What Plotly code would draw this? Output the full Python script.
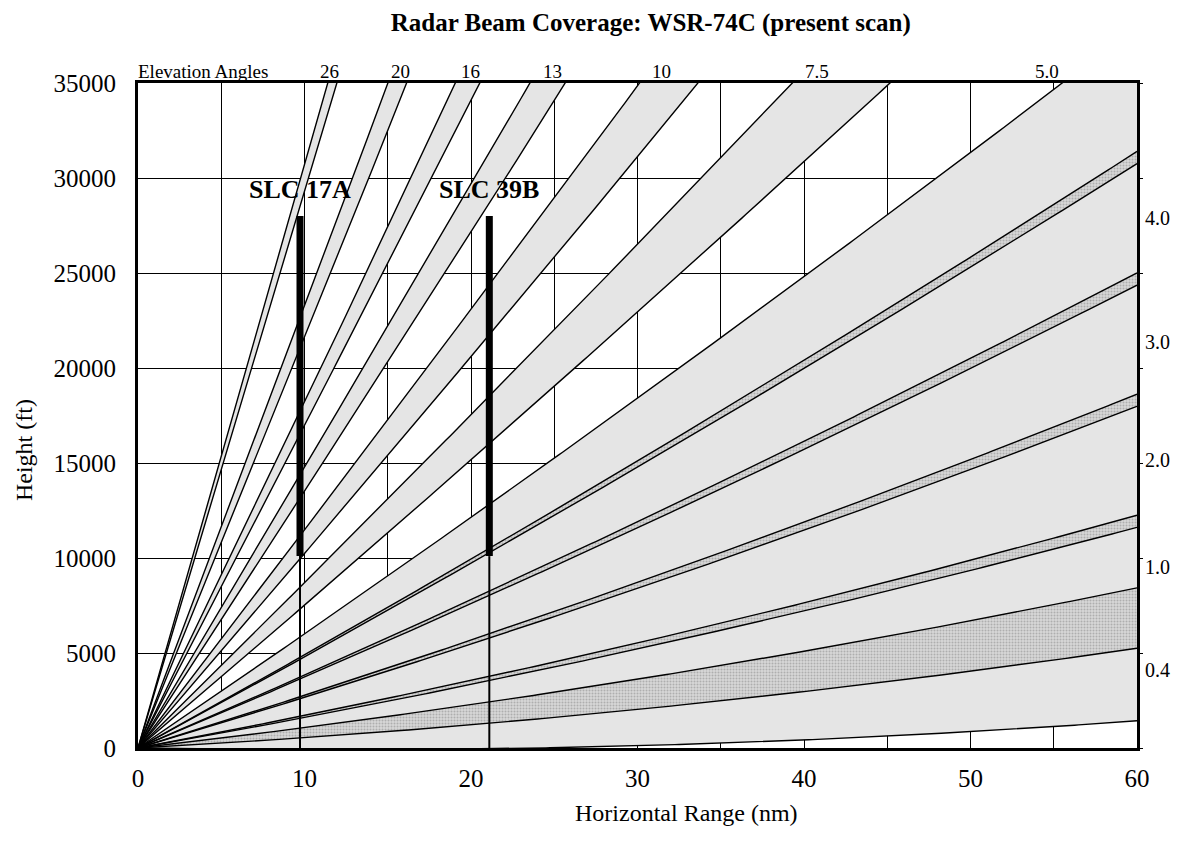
import numpy as np
import plotly.graph_objects as go

# ---- data ----
beam_labels = ["0.4", "1.0", "2.0", "3.0", "4.0", "5.0", "7.5", "10", "13", "16", "20", "26"]
lower_edge_deg = [-0.15, 0.45, 1.45, 2.45, 3.45, 4.45, 6.99, 9.50, 12.48, 15.55, 19.53, 25.67]
upper_edge_deg = [0.95, 1.55, 2.55, 3.55, 4.55, 5.58, 8.09, 10.64, 13.61, 16.63, 20.90, 26.73]

top_labels = ["26", "20", "16", "13", "10", "7.5", "5.0"]
top_label_x = [11.53, 15.74, 19.94, 24.92, 31.47, 40.78, 54.6]
right_labels = ["4.0", "3.0", "2.0", "1.0", "0.4"]
right_label_y = [27890, 21370, 15160, 9530, 4100]

sites = ["SLC 17A", "SLC 39B"]
site_x = [9.73, 21.1]
site_bar_bottom = [10100, 10100]
site_bar_top = [28000, 28000]
site_label_y = [29400, 29400]

x_ticks = [0, 10, 20, 30, 40, 50, 60]
y_ticks = [0, 5000, 10000, 15000, 20000, 25000, 30000, 35000]
y_tick_text = [str(v) for v in y_ticks]

# ---- beam geometry (4/3 earth radius model) ----
FT_PER_NM = 6076.1
RE_FT = 20.9e6
K = 4.0 / 3.0
r_nm = np.linspace(0, 60, 241)


def beam_height(angle_deg):
    r_ft = r_nm * FT_PER_NM
    return r_ft * np.tan(np.radians(angle_deg)) + r_ft ** 2 / (2 * K * RE_FT)


FONT = "Liberation Serif, Times New Roman, serif"
GRAY = "#e5e5e5"

fig = go.Figure()

# beam fills
for lo, hi in zip(lower_edge_deg, upper_edge_deg):
    fig.add_trace(go.Scatter(x=r_nm, y=beam_height(lo), mode="lines",
                             line=dict(width=0), hoverinfo="skip", showlegend=False))
    fig.add_trace(go.Scatter(x=r_nm, y=beam_height(hi), mode="lines",
                             line=dict(width=0), fill="tonexty", fillcolor=GRAY,
                             hoverinfo="skip", showlegend=False))

# overlapping parts of adjacent beams (stippled)
for i in range(len(beam_labels) - 1):
    lo_next = lower_edge_deg[i + 1]
    hi_cur = upper_edge_deg[i]
    if lo_next < hi_cur:
        fig.add_trace(go.Scatter(x=r_nm, y=beam_height(lo_next), mode="lines",
                                 line=dict(width=0), hoverinfo="skip", showlegend=False))
        fig.add_trace(go.Scatter(x=r_nm, y=beam_height(hi_cur), mode="lines",
                                 line=dict(width=0), fill="tonexty",
                                 fillcolor="#cfcfcf",
                                 fillpattern=dict(shape=".", bgcolor="#d6d6d6",
                                                  fgcolor="#858585", size=3, solidity=0.35),
                                 hoverinfo="skip", showlegend=False))

# beam edge lines
for ang in lower_edge_deg + upper_edge_deg:
    fig.add_trace(go.Scatter(x=r_nm, y=beam_height(ang), mode="lines",
                             line=dict(color="black", width=1.4),
                             hoverinfo="skip", showlegend=False))

# launch sites
for name, sx, b0, b1 in zip(sites, site_x, site_bar_bottom, site_bar_top):
    fig.add_trace(go.Scatter(x=[sx, sx], y=[0, b0], mode="lines",
                             line=dict(color="black", width=2),
                             hoverinfo="skip", showlegend=False))
    fig.add_trace(go.Scatter(x=[sx, sx], y=[b0, b1], mode="lines",
                             line=dict(color="black", width=7),
                             hoverinfo="skip", showlegend=False))

annotations = []
for name, sx, ly in zip(sites, site_x, site_label_y):
    annotations.append(dict(x=sx, y=ly, xref="x", yref="y", text=f"<b>{name}</b>",
                            showarrow=False, font=dict(family=FONT, size=26, color="black"),
                            xanchor="center", yanchor="middle"))
annotations.append(dict(x=0.0, y=1.0, xref="paper", yref="paper", text="Elevation Angles",
                        showarrow=False, font=dict(family=FONT, size=19, color="black"),
                        xanchor="left", yanchor="bottom", xshift=-2, yshift=-1))
for t, tx in zip(top_labels, top_label_x):
    annotations.append(dict(x=tx, y=1.0, xref="x", yref="paper", text=t,
                            showarrow=False, font=dict(family=FONT, size=19, color="black"),
                            xanchor="center", yanchor="bottom", yshift=-1))
for t, ty in zip(right_labels, right_label_y):
    annotations.append(dict(x=1.0, y=ty, xref="paper", yref="y", text=t,
                            showarrow=False, font=dict(family=FONT, size=20, color="black"),
                            xanchor="left", yanchor="middle", xshift=6))
# axis titles
annotations.append(dict(x=0.5495, y=-0.0977, xref="paper", yref="paper",
                        text="Horizontal Range (nm)", showarrow=False,
                        font=dict(family=FONT, size=24, color="black"),
                        xanchor="center", yanchor="middle"))
annotations.append(dict(x=-0.1141, y=0.448, xref="paper", yref="paper",
                        text="Height (ft)", showarrow=False, textangle=-90,
                        font=dict(family=FONT, size=24, color="black"),
                        xanchor="center", yanchor="middle"))

fig.update_layout(
    width=1179, height=852,
    margin=dict(l=138, r=42, t=83, b=104),
    paper_bgcolor="white", plot_bgcolor="white",
    title=dict(text="<b>Radar Beam Coverage: WSR-74C (present scan)</b>",
               x=0.552, xanchor="center", xref="container", y=0.974, yanchor="middle",
               font=dict(family=FONT, size=25, color="black")),
    font=dict(family=FONT, color="black"),
    annotations=annotations,
    xaxis=dict(range=[0, 60], tickvals=x_ticks, showgrid=True, gridcolor="black",
               gridwidth=1,
               showline=True, linecolor="black", linewidth=3, mirror=True,
               ticks="", zeroline=False, ticklabelstandoff=6,
               tickfont=dict(family=FONT, size=25)),
    yaxis=dict(range=[0, 35000], tickvals=y_ticks, ticktext=y_tick_text,
               showgrid=True, gridcolor="black",
               gridwidth=1, showline=True, linecolor="black", linewidth=3, mirror=True,
               ticks="", zeroline=False, ticklabelstandoff=14,
               tickfont=dict(family=FONT, size=25)),
    yaxis2=dict(range=[0, 35000], overlaying="y", side="right", tickvals=y_ticks,
                showticklabels=False, ticks="outside", ticklen=5, tickcolor="black",
                showgrid=False, zeroline=False, showline=False),
)

# vertical grid every 5 nm (minor grid)
fig.update_xaxes(minor=dict(dtick=5, tick0=0, showgrid=True, gridcolor="black", gridwidth=1))
# invisible trace so the right-hand tick marks are drawn
fig.add_trace(go.Scatter(x=[0], y=[0], yaxis="y2", mode="markers",
                         marker=dict(opacity=0), hoverinfo="skip", showlegend=False))

fig.write_html("out.html")
